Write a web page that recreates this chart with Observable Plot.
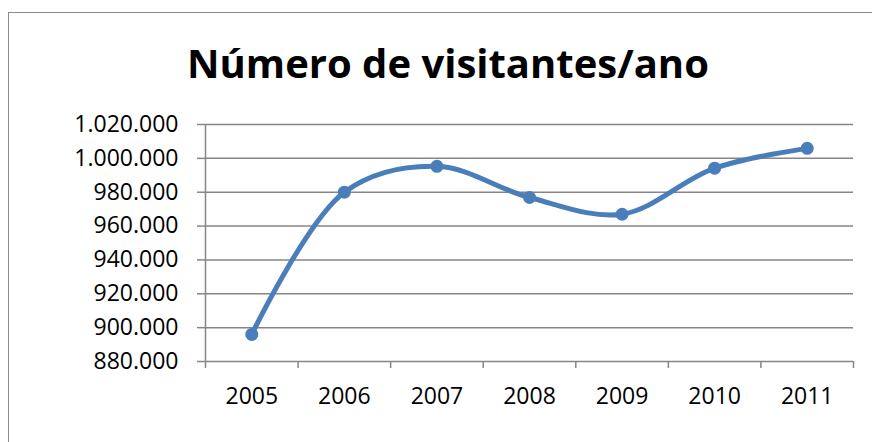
<!DOCTYPE html>
<html><head><meta charset="utf-8">
<script src="https://cdn.jsdelivr.net/npm/d3@7"></script>
<script src="https://cdn.jsdelivr.net/npm/@observablehq/plot@0.6"></script>
<style>
body{margin:0;background:#fff;}
#wrap{position:relative;width:872px;height:442px;overflow:hidden;background:#fff;}
#frame{position:absolute;left:8px;top:12px;width:1000px;height:1000px;border-left:1.5px solid #8c8c8c;border-top:1.5px solid #8c8c8c;z-index:2;pointer-events:none;}
#title{height:100px;box-sizing:border-box;padding-top:42px;padding-left:24px;text-align:center;font-family:"Open Sans";font-weight:bold;font-size:40px;line-height:41px;color:#000;white-space:nowrap;}
</style>
</head><body>
<div id="wrap"><div id="frame"></div><div id="title">Número de visitantes/ano</div><div id="chart"></div></div>
<script>
const years = [2005, 2006, 2007, 2008, 2009, 2010, 2011];
const visitors = [896000, 980000, 995300, 976900, 967000, 994200, 1005900];
const yTicks = [880000, 900000, 920000, 940000, 960000, 980000, 1000000, 1020000];
const xBounds = [2004.5, 2005.5, 2006.5, 2007.5, 2008.5, 2009.5, 2010.5, 2011.5];

const fmt = d3.formatLocale({decimal: ",", thousands: ".", grouping: [3], currency: ["", ""]}).format(",d");
const data = years.map((y, i) => ({year: y, value: visitors[i]}));
const gray = "#868686";

const chart = Plot.plot({
  width: 872, height: 342,
  marginLeft: 205, marginRight: 19, marginTop: 24, marginBottom: 81,
  style: {fontFamily: "Open Sans", fontSize: "23px", color: "#000", background: "transparent", overflow: "visible"},
  x: {type: "linear", domain: [2004.5, 2011.5], label: null},
  y: {domain: [880000, 1020000], label: null},
  marks: [
    Plot.gridY(yTicks, {stroke: gray, strokeOpacity: 1, strokeWidth: 1.5}),
    Plot.ruleX([2004.5], {stroke: gray, strokeWidth: 1.5}),
    Plot.axisY(yTicks, {label: null, tickFormat: fmt, tickSize: 8, tickPadding: 19, stroke: gray, strokeWidth: 1.5, fill: "#000"}),
    Plot.axisX(xBounds, {label: null, tickSize: 7, tickFormat: () => "", stroke: gray, strokeWidth: 1.5}),
    Plot.axisX(years, {label: null, tickSize: 0, tickPadding: 26, tickFormat: d => String(d), fill: "#000"}),
    Plot.line(data, {x: "year", y: "value", curve: "catmull-rom", stroke: "#4A7EBB", strokeWidth: 5}),
    Plot.dot(data, {x: "year", y: "value", r: 6.5, fill: "#4A7EBB"})
  ]
});
document.getElementById("chart").appendChild(chart);
</script>
</body></html>
